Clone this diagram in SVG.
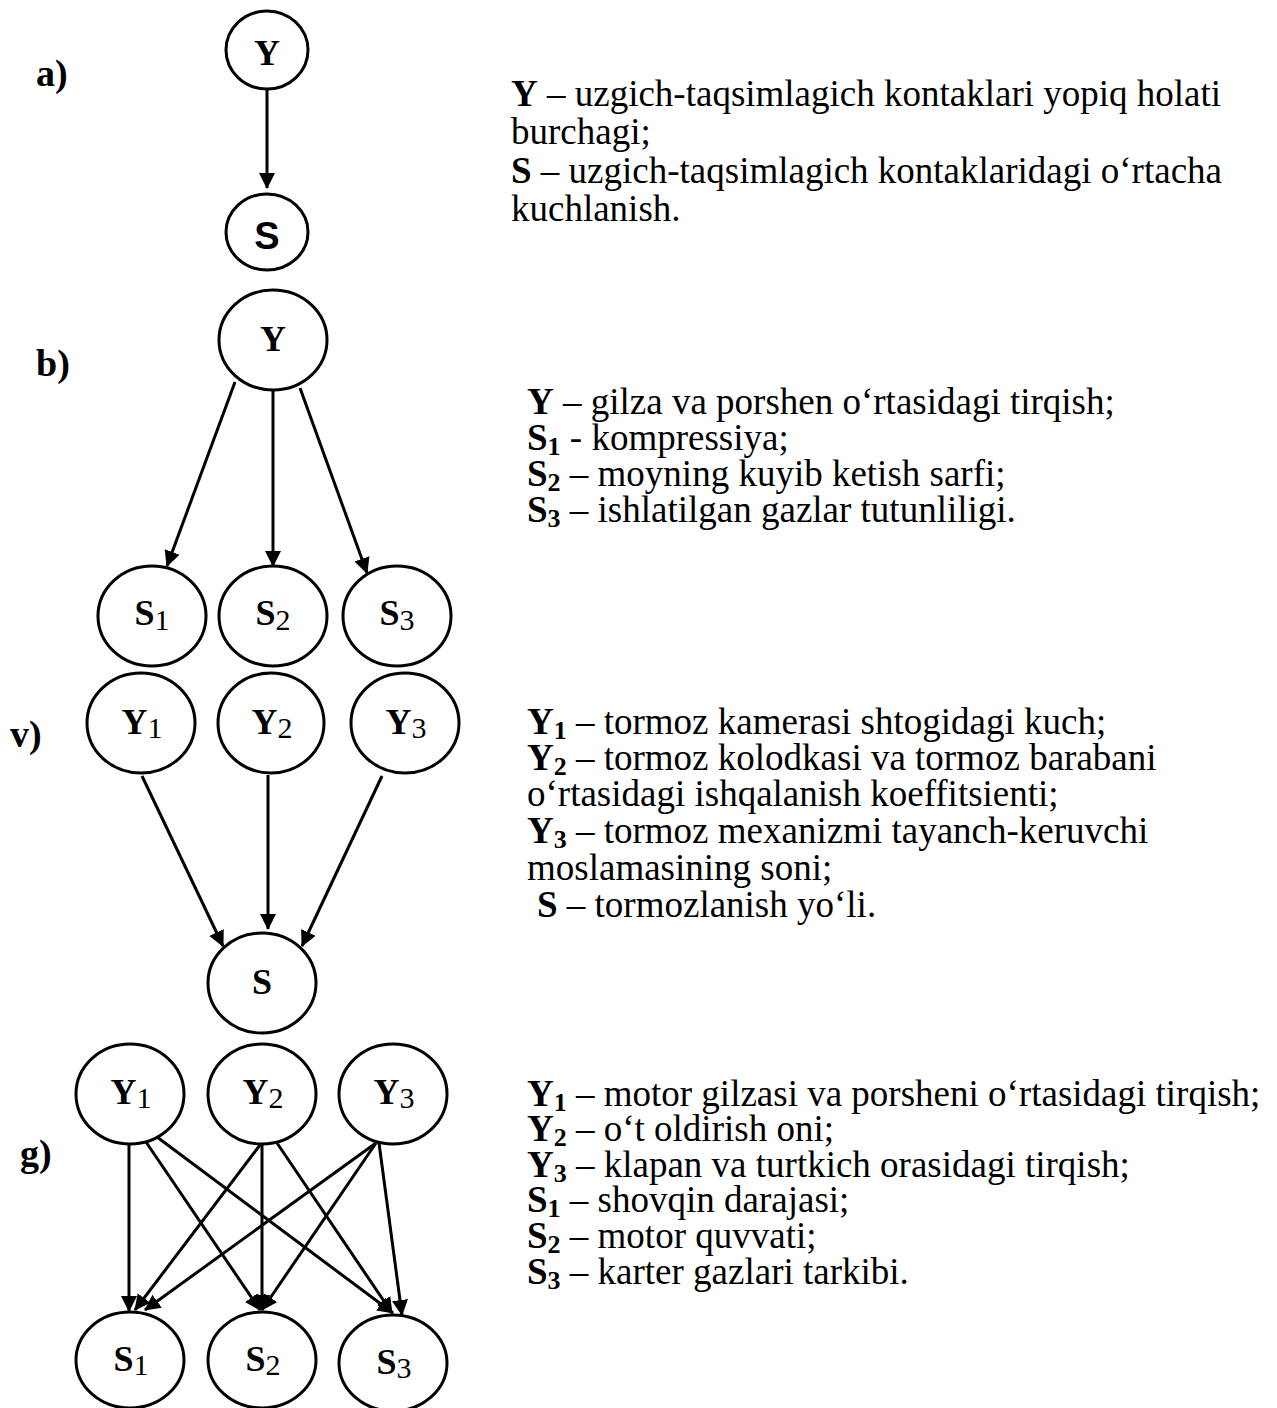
<svg xmlns="http://www.w3.org/2000/svg" width="1277" height="1408" viewBox="0 0 1277 1408">
<style>
.nd{fill:#fff;stroke:#000;stroke-width:3}
.lb{font-family:"Liberation Serif","Times New Roman",serif;font-weight:bold;font-size:36px;fill:#000;text-anchor:middle}
.sub{font-weight:normal;font-size:30px}
.sec{font-family:"Liberation Serif","Times New Roman",serif;font-weight:bold;font-size:38px;fill:#000}
.tx{font-family:"Liberation Serif","Times New Roman",serif;font-size:37px;fill:#000}
.b{font-weight:bold}
.ts{font-weight:bold;font-size:26px}
.cn line{stroke:#000;stroke-width:3;marker-end:url(#ah)}
</style>
<defs>
<marker id="ah" markerUnits="userSpaceOnUse" markerWidth="18" markerHeight="18" refX="15" refY="8" orient="auto">
<path d="M0,0 L16,8 L0,16 z" fill="#000"/>
</marker>
</defs>
<rect width="1277" height="1408" fill="#fff"/>

<text class="sec" x="36" y="86">a)</text>
<text class="sec" x="36" y="376">b)</text>
<text class="sec" x="10" y="747">v)</text>
<text class="sec" x="20" y="1166">g)</text>

<g id="connectors" class="cn">
<line x1="267" y1="90" x2="267" y2="188"/>
<line x1="235" y1="382" x2="167" y2="566"/>
<line x1="273" y1="391" x2="273" y2="566"/>
<line x1="300" y1="388" x2="367" y2="573"/>
<line x1="142" y1="776" x2="223" y2="946"/>
<line x1="268" y1="775" x2="268" y2="929"/>
<line x1="382" y1="776" x2="302" y2="946"/>
<line x1="129" y1="1144" x2="129" y2="1311"/>
<line x1="146" y1="1142" x2="260" y2="1310"/>
<line x1="157" y1="1137" x2="393" y2="1313"/>
<line x1="260" y1="1145" x2="135" y2="1310"/>
<line x1="262" y1="1145" x2="262" y2="1310"/>
<line x1="277" y1="1143" x2="392" y2="1313"/>
<line x1="376" y1="1143" x2="145" y2="1310"/>
<line x1="376" y1="1143" x2="262" y2="1310"/>
<line x1="379" y1="1143" x2="402" y2="1315"/>
</g>

<g id="a-Y"><ellipse class="nd" cx="267" cy="50" rx="41" ry="39"/><text class="lb" x="267" y="65">Y</text></g>
<g id="a-S"><ellipse class="nd" cx="267" cy="232" rx="41" ry="38"/><text class="lb" x="267" y="249" style="font-family:'Liberation Sans',Arial,sans-serif;font-size:38px">S</text></g>

<g id="b-Y"><ellipse class="nd" cx="273" cy="340" rx="54" ry="50"/><text class="lb" x="273" y="351">Y</text></g>
<g id="b-S1"><ellipse class="nd" cx="152" cy="616" rx="54" ry="50"/><text class="lb" x="152" y="625">S<tspan class="sub" dy="5">1</tspan></text></g>
<g id="b-S2"><ellipse class="nd" cx="273" cy="616" rx="54" ry="50"/><text class="lb" x="273" y="625">S<tspan class="sub" dy="5">2</tspan></text></g>
<g id="b-S3"><ellipse class="nd" cx="397" cy="616" rx="54" ry="50"/><text class="lb" x="397" y="625">S<tspan class="sub" dy="5">3</tspan></text></g>

<g id="v-Y1"><ellipse class="nd" cx="141" cy="723" rx="54" ry="50"/><text class="lb" x="142" y="734">Y<tspan class="sub" dy="4">1</tspan></text></g>
<g id="v-Y2"><ellipse class="nd" cx="271" cy="723" rx="53" ry="50"/><text class="lb" x="272" y="734">Y<tspan class="sub" dy="4">2</tspan></text></g>
<g id="v-Y3"><ellipse class="nd" cx="405" cy="723" rx="54" ry="50"/><text class="lb" x="406" y="734">Y<tspan class="sub" dy="4">3</tspan></text></g>
<g id="v-S"><ellipse class="nd" cx="262" cy="983" rx="54" ry="50"/><text class="lb" x="262" y="994">S</text></g>

<g id="g-Y1"><ellipse class="nd" cx="130" cy="1094" rx="54" ry="50"/><text class="lb" x="131" y="1104">Y<tspan class="sub" dy="4">1</tspan></text></g>
<g id="g-Y2"><ellipse class="nd" cx="262" cy="1094" rx="54" ry="50"/><text class="lb" x="263" y="1104">Y<tspan class="sub" dy="4">2</tspan></text></g>
<g id="g-Y3"><ellipse class="nd" cx="393" cy="1094" rx="54" ry="50"/><text class="lb" x="394" y="1104">Y<tspan class="sub" dy="4">3</tspan></text></g>
<g id="g-S1"><ellipse class="nd" cx="130" cy="1360" rx="54" ry="48"/><text class="lb" x="131" y="1371">S<tspan class="sub" dy="4">1</tspan></text></g>
<g id="g-S2"><ellipse class="nd" cx="262" cy="1360" rx="54" ry="48"/><text class="lb" x="263" y="1371">S<tspan class="sub" dy="4">2</tspan></text></g>
<g id="g-S3"><ellipse class="nd" cx="393" cy="1363" rx="54" ry="48"/><text class="lb" x="394" y="1374">S<tspan class="sub" dy="4">3</tspan></text></g>

<g id="legend-a" class="tx">
<text x="511" y="106"><tspan class="b">Y</tspan> – uzgich-taqsimlagich kontaklari yopiq holati</text>
<text x="511" y="144">burchagi;</text>
<text x="511" y="183"><tspan class="b">S</tspan> – uzgich-taqsimlagich kontaklaridagi o‘rtacha</text>
<text x="511" y="221">kuchlanish.</text>
</g>
<g id="legend-b" class="tx">
<text x="527" y="414"><tspan class="b">Y</tspan> – gilza va porshen o‘rtasidagi tirqish;</text>
<text x="527" y="450"><tspan class="b">S</tspan><tspan class="ts" dy="5">1</tspan><tspan dy="-5"> - kompressiya;</tspan></text>
<text x="527" y="486"><tspan class="b">S</tspan><tspan class="ts" dy="5">2</tspan><tspan dy="-5"> – moyning kuyib ketish sarfi;</tspan></text>
<text x="527" y="522"><tspan class="b">S</tspan><tspan class="ts" dy="5">3</tspan><tspan dy="-5"> – ishlatilgan gazlar tutunliligi.</tspan></text>
</g>
<g id="legend-v" class="tx">
<text x="527" y="734"><tspan class="b">Y</tspan><tspan class="ts" dy="5">1</tspan><tspan dy="-5"> – tormoz kamerasi shtogidagi kuch;</tspan></text>
<text x="527" y="770"><tspan class="b">Y</tspan><tspan class="ts" dy="5">2</tspan><tspan dy="-5"> – tormoz kolodkasi va tormoz barabani</tspan></text>
<text x="527" y="806">o‘rtasidagi ishqalanish koeffitsienti;</text>
<text x="527" y="843"><tspan class="b">Y</tspan><tspan class="ts" dy="5">3</tspan><tspan dy="-5"> – tormoz mexanizmi tayanch-keruvchi</tspan></text>
<text x="527" y="880">moslamasining soni;</text>
<text x="537" y="917"><tspan class="b">S</tspan> – tormozlanish yo‘li.</text>
</g>
<g id="legend-g" class="tx">
<text x="527" y="1106"><tspan class="b">Y</tspan><tspan class="ts" dy="5">1</tspan><tspan dy="-5"> – motor gilzasi va porsheni o‘rtasidagi tirqish;</tspan></text>
<text x="527" y="1141"><tspan class="b">Y</tspan><tspan class="ts" dy="5">2</tspan><tspan dy="-5"> – o‘t oldirish oni;</tspan></text>
<text x="527" y="1177"><tspan class="b">Y</tspan><tspan class="ts" dy="5">3</tspan><tspan dy="-5"> – klapan va turtkich orasidagi tirqish;</tspan></text>
<text x="527" y="1212"><tspan class="b">S</tspan><tspan class="ts" dy="5">1</tspan><tspan dy="-5"> – shovqin darajasi;</tspan></text>
<text x="527" y="1248"><tspan class="b">S</tspan><tspan class="ts" dy="5">2</tspan><tspan dy="-5"> – motor quvvati;</tspan></text>
<text x="527" y="1284"><tspan class="b">S</tspan><tspan class="ts" dy="5">3</tspan><tspan dy="-5"> – karter gazlari tarkibi.</tspan></text>
</g>
</svg>
